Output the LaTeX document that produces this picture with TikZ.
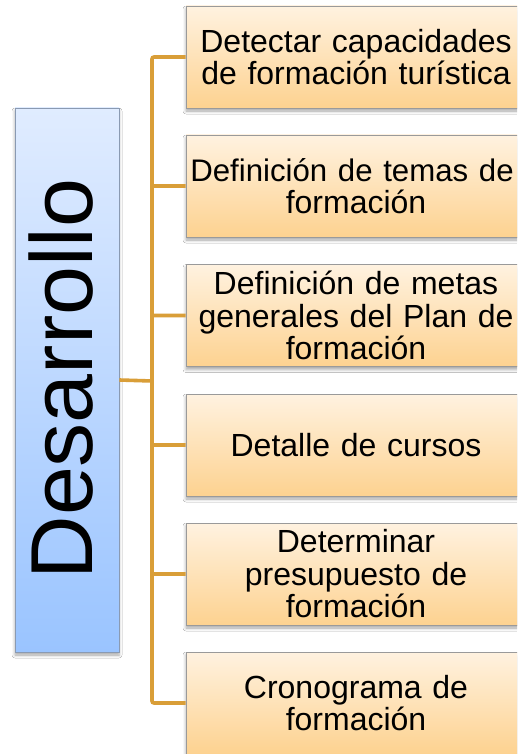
\documentclass[tikz,border=0pt]{standalone}
\usepackage{fontspec}
\setmainfont{Liberation Sans}
\usetikzlibrary{shadows.blur}
\definecolor{otop}{HTML}{FFF2E0}
\definecolor{obot}{HTML}{FDD290}
\definecolor{btop}{HTML}{E0ECFF}
\definecolor{bbot}{HTML}{9AC4FF}
\definecolor{conncol}{HTML}{D99E38}
\definecolor{oborder}{HTML}{9A9A9A}
\definecolor{bborder}{HTML}{8A9AB2}
\tikzset{
  itembox/.style={rectangle, draw=oborder, line width=0.9pt,
    top color=otop, bottom color=obot,
    minimum width=340pt, minimum height=102pt, inner sep=3pt,
    text width=334pt, align=center,
    font=\fontsize{32}{32.5}\selectfont,
    blur shadow={shadow xshift=0pt, shadow yshift=-3pt, shadow blur radius=3pt, shadow opacity=35}},
  mainbox/.style={rectangle, draw=bborder, line width=0.9pt,
    top color=btop, bottom color=bbot,
    minimum width=104pt, minimum height=544pt, inner sep=0pt,
    blur shadow={shadow xshift=0pt, shadow yshift=-3pt, shadow blur radius=3pt, shadow opacity=35}},
  conn/.style={draw=conncol, line width=3.6pt, rounded corners=2pt}
}
\begin{document}
\begin{tikzpicture}[x=1pt,y=-1pt]
\clip (0,0) rectangle (517,754);
\fill[white] (0,0) rectangle (517,754);
\node[mainbox] (L) at (67,380) {};
\node[rotate=90, anchor=base, inner sep=0pt, font=\fontsize{88}{90}\selectfont] (Ltext) at (92,379) {Desarrollo};
\coordinate (t) at (152,381);
\node[itembox] (b1) at (356,57) {Detectar capacidades\\de formación turística};
\node[itembox] (b2) at (356,186) {\hspace*{-8pt}{\fontsize{31.2}{32.5}\selectfont Definición de temas de}\\formación};
\node[itembox] (b3) at (356,315.5) {Definición de metas\\generales del Plan de\\formación};
\node[itembox] (b4) at (356,445) {Detalle de cursos};
\node[itembox] (b5) at (356,574) {Determinar\\presupuesto de\\formación};
\node[itembox] (b6) at (356,703) {Cronograma de\\formación};
\draw[conn] (L.east) -- (t);
\foreach \b in {b1,b2,b3,b4,b5,b6} {
  \draw[conn] (t) |- (\b.west);
}
\end{tikzpicture}
\end{document}
